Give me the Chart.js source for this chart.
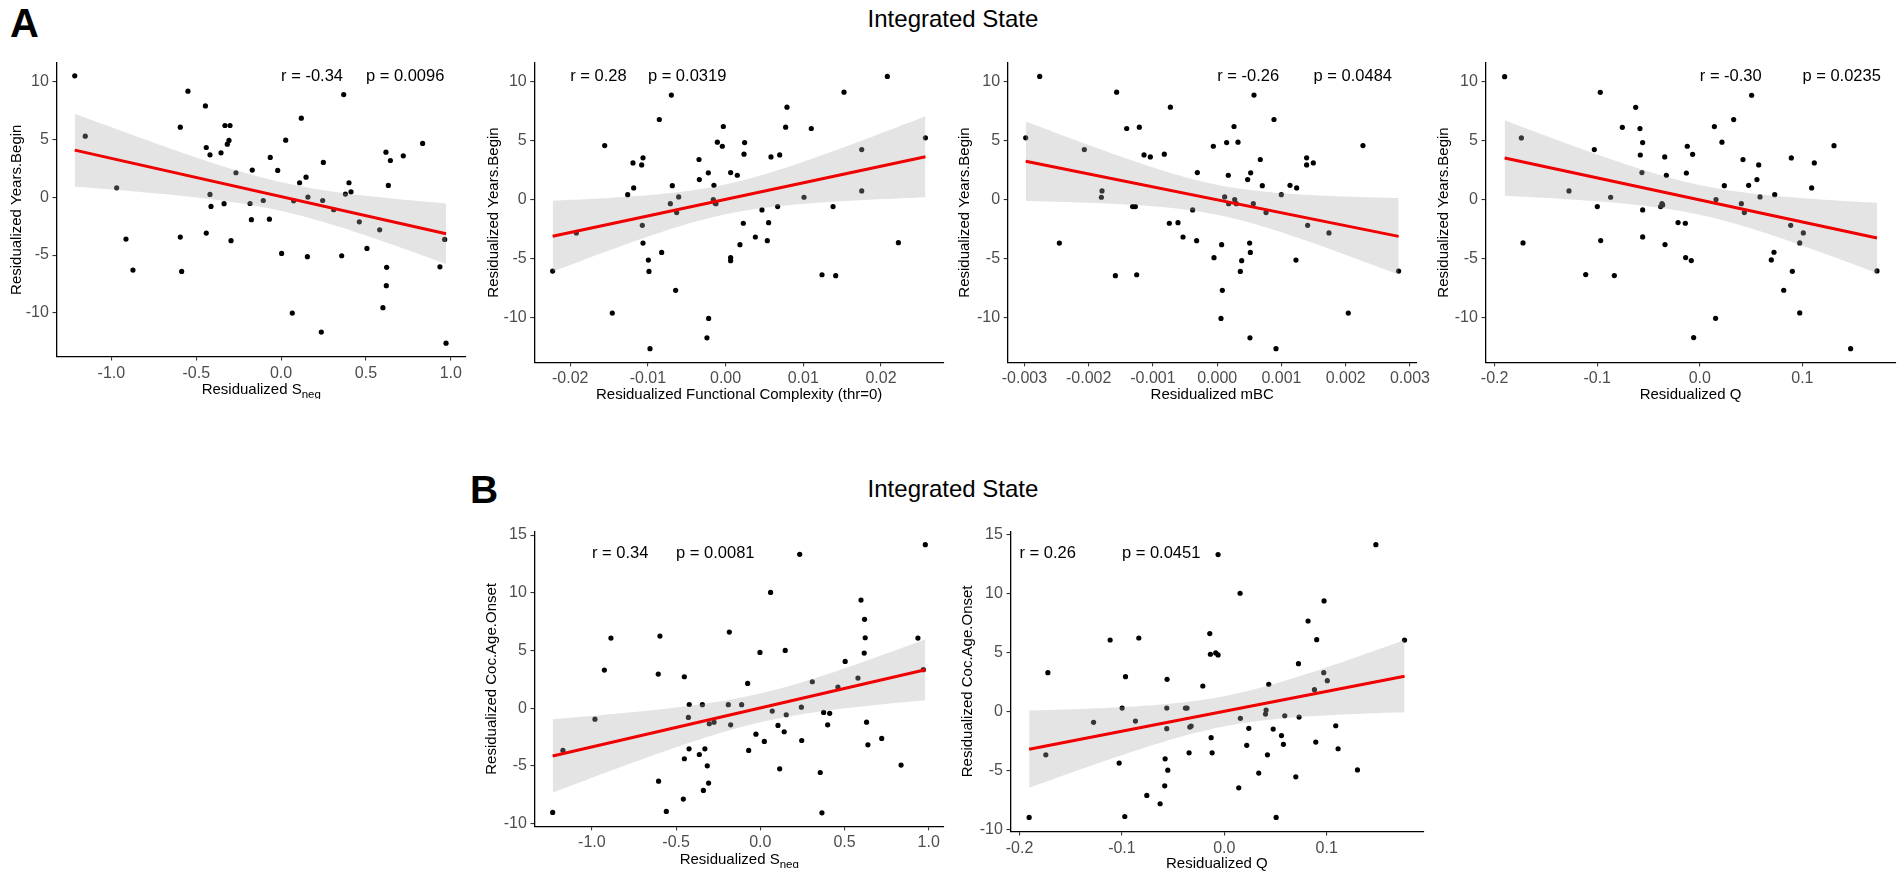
<!DOCTYPE html>
<html>
<head>
<meta charset="utf-8">
<title>Integrated State</title>
<script src="https://cdn.jsdelivr.net/npm/chart.js@4.4.1/dist/chart.umd.min.js"></script>
<style>
  html, body { margin: 0; padding: 0; background: #fff; }
  body { width: 1902px; height: 876px; position: relative; overflow: hidden;
         font-family: "Liberation Sans", Arial, Helvetica, sans-serif; }
  canvas { position: absolute; }
  .tag { position: absolute; font-weight: bold; line-height: 1; color: #000; }
  .head { position: absolute; width: 400px; text-align: center; font-size: 24px; line-height: 1; color: #000; }
</style>
</head>
<body>
<div class="tag" style="left:10px; top:3px; font-size:40px;">A</div>
<div class="head" style="left:753px; top:7px;">Integrated State</div>
<div class="tag" style="left:470px; top:470px; font-size:39px;">B</div>
<div class="head" style="left:753px; top:477px;">Integrated State</div>
<script>
// ---- data ----
// Panel A: y = Residualized Years.Begin
const aSnegX = [-1.216,-1.154,-0.969,-0.914,-0.873,-0.594,-0.594,-0.586,-0.549,-0.446,-0.441,-0.441,-0.419,-0.419,-0.413,-0.354,-0.336,-0.331,-0.301,-0.307,-0.317,-0.295,-0.266,-0.183,-0.175,-0.170,-0.105,-0.069,-0.064,-0.020,0.003,0.027,0.066,0.074,0.109,0.119,0.147,0.155,0.158,0.237,0.245,0.249,0.310,0.357,0.369,0.379,0.400,0.412,0.461,0.506,0.581,0.600,0.618,0.622,0.620,0.632,0.644,0.720,0.834,0.936,0.964,0.972];
const aSnegY = [10.46,5.26,0.80,-3.62,-6.29,6.03,-3.45,-6.41,9.14,7.87,4.28,-3.10,3.65,0.23,-0.80,3.82,-0.57,6.18,6.18,4.89,4.57,-3.76,2.10,-0.55,-1.95,2.33,-0.29,-1.90,3.42,2.30,-4.86,4.91,-10.00,-0.32,1.24,6.81,1.72,-5.14,0.00,-11.64,-0.29,2.99,-1.09,-5.06,8.85,0.26,1.24,0.46,-2.13,-4.43,-2.82,-9.54,3.88,-6.06,-7.64,1.01,3.16,3.56,4.63,-6.01,-3.65,-12.60];

const aFcX = [-0.02226,-0.01921,-0.01556,-0.01458,-0.01260,-0.01192,-0.01183,-0.01080,-0.01063,-0.01072,-0.01063,-0.00994,-0.00986,-0.00853,-0.00823,-0.00711,-0.00698,-0.00686,-0.00643,-0.00630,-0.00604,-0.00342,-0.00338,-0.00240,-0.00222,-0.00218,-0.00158,-0.00150,-0.00124,-0.00136,-0.00106,-0.00042,-0.00029,0.00065,0.00065,0.00065,0.00151,0.00185,0.00228,0.00237,0.00245,0.00383,0.00468,0.00537,0.00554,0.00584,0.00670,0.00696,0.00773,0.00790,0.01009,0.01103,0.01241,0.01383,0.01417,0.01524,0.01752,0.01752,0.02082,0.02224,0.02572,-0.00973];
const aFcY = [-6.04,-2.82,4.57,-9.59,0.42,3.10,0.99,2.93,3.53,-2.17,-3.67,-5.11,-6.07,6.77,-4.46,-0.34,8.83,1.18,-7.67,-1.10,0.23,3.39,1.69,-11.68,2.26,-10.04,0.00,1.21,-0.34,-0.29,4.85,4.51,6.18,2.28,-4.91,-5.16,2.06,-3.81,-2.00,3.84,4.82,-3.16,-0.87,-3.47,-1.95,3.61,-0.59,3.78,6.12,7.81,0.20,6.01,-6.35,-0.59,-6.43,9.08,4.23,0.73,10.41,-3.64,5.22,-12.60];

const aMbcX = [-0.002981,-0.002763,-0.002457,-0.002068,-0.001793,-0.001803,-0.001585,-0.001565,-0.001409,-0.001316,-0.001274,-0.001253,-0.001212,-0.001139,-0.001041,-0.000823,-0.000745,-0.000729,-0.000610,-0.000532,-0.000382,-0.000320,-0.000309,-0.000060,-0.000050,0.000059,0.000069,0.000080,0.000116,0.000147,0.000173,0.000178,0.000262,0.000272,0.000298,0.000324,0.000360,0.000381,0.000474,0.000505,0.000510,0.000516,0.000521,0.000562,0.000573,0.000671,0.000702,0.000760,0.000884,0.000998,0.001133,0.001226,0.001237,0.001392,0.001392,0.001408,0.001496,0.001740,0.002041,0.002269,0.002824,0.000915];
const aMbcY = [5.22,10.41,-3.67,4.23,0.73,0.20,-6.43,9.08,6.01,-0.59,-0.59,-6.35,6.12,3.78,3.61,3.84,-2.00,7.81,-1.95,-3.16,-0.87,-3.47,2.28,4.51,-4.91,-10.04,-3.81,-7.67,0.23,4.82,2.06,-0.34,6.18,0.00,-0.34,4.85,-6.07,-5.16,1.69,-3.67,-11.68,-4.46,2.26,-0.34,8.83,3.39,1.18,-1.10,6.77,0.42,1.21,-5.11,0.99,3.53,2.93,-2.17,3.10,-2.82,-9.59,4.57,-6.04,-12.60];

const aQX = [-0.1902,-0.1739,-0.1723,-0.1275,-0.1112,-0.1028,-0.0999,-0.0970,-0.0966,-0.0869,-0.0833,-0.0755,-0.0625,-0.0583,-0.0580,-0.0564,-0.0557,-0.0557,-0.0557,-0.0382,-0.0369,-0.0362,-0.0342,-0.0339,-0.0326,-0.0212,-0.0141,-0.0138,-0.0131,-0.0122,-0.0083,-0.0070,-0.0060,0.0142,0.0154,0.0158,0.0216,0.0239,0.0330,0.0405,0.0421,0.0434,0.0476,0.0505,0.0557,0.0574,0.0587,0.0697,0.0723,0.0730,0.0818,0.0886,0.0892,0.0902,0.0974,0.0974,0.1009,0.1090,0.1116,0.1308,0.1727,0.1470];
const aQY = [10.39,5.21,-3.66,0.73,-6.34,4.23,-0.59,9.07,-3.46,0.20,-6.42,6.11,7.80,6.00,3.77,2.28,4.82,-0.87,-3.15,-0.59,-0.34,-0.45,3.61,-3.80,2.06,-1.94,-2.00,-4.90,2.25,4.51,-5.15,3.83,-11.66,6.17,-10.03,0.00,4.85,1.18,6.76,-0.34,3.38,-1.10,1.21,8.82,1.69,2.93,0.23,-5.10,-4.45,0.42,-7.66,-2.17,3.52,-6.06,-9.58,-3.66,-2.82,0.99,3.10,4.56,-6.03,-12.60];

// Panel B: y = Residualized Coc.Age.Onset
const bSnegX = [-1.233,-1.172,-0.982,-0.926,-0.887,-0.606,-0.604,-0.596,-0.558,-0.457,-0.451,-0.451,-0.427,-0.423,-0.422,-0.362,-0.344,-0.338,-0.329,-0.315,-0.307,-0.303,-0.275,-0.190,-0.184,-0.176,-0.111,-0.075,-0.069,-0.026,-0.002,0.024,0.061,0.071,0.105,0.115,0.142,0.148,0.154,0.234,0.244,0.246,0.309,0.356,0.366,0.376,0.400,0.412,0.461,0.504,0.580,0.598,0.619,0.623,0.617,0.631,0.639,0.721,0.836,0.936,0.968,0.980];
const bSnegY = [-9.02,-3.65,-0.94,3.31,6.08,2.96,-6.31,6.25,-8.93,-7.86,2.73,-4.37,-0.79,-3.51,0.33,-4.00,0.31,-7.11,-3.51,-4.98,-6.48,-1.34,-1.20,0.31,6.60,-1.43,0.31,2.15,-3.65,-2.24,4.84,-2.87,10.03,-0.24,-1.48,-5.24,-2.03,5.01,-0.56,13.33,0.10,-2.79,2.30,-5.56,-9.05,-0.36,-1.43,-0.44,1.84,4.06,2.62,9.37,7.70,6.11,4.78,-1.20,-3.16,-2.61,-4.92,6.08,3.34,14.17];

const bQX = [-0.1906,-0.1743,-0.1723,-0.1277,-0.1115,-0.1027,-0.0998,-0.0972,-0.0965,-0.0868,-0.0835,-0.0757,-0.0627,-0.0582,-0.0578,-0.0562,-0.0562,-0.0559,-0.0552,-0.0380,-0.0364,-0.0344,-0.0337,-0.0324,-0.0210,-0.0142,-0.0136,-0.0129,-0.0119,-0.0084,-0.0061,-0.0061,0.0141,0.0154,0.0157,0.0219,0.0239,0.0336,0.0402,0.0408,0.0421,0.0434,0.0477,0.0506,0.0558,0.0577,0.0590,0.0698,0.0724,0.0730,0.0818,0.0880,0.0893,0.0902,0.0971,0.0974,0.1006,0.1088,0.1111,0.1300,0.1480,0.1760];
const bQY = [-8.95,-3.64,3.32,-0.89,6.09,-4.34,0.32,-8.87,2.98,-0.78,6.26,-7.08,-7.79,-6.27,-3.98,0.32,-1.43,2.76,-4.94,0.32,0.32,-3.47,-1.29,-1.21,2.19,6.63,4.88,-2.19,-3.47,4.99,4.82,13.33,-6.44,10.05,-0.55,-2.84,-1.40,-5.19,-0.19,0.15,-3.64,2.33,-1.46,-8.95,-2.01,-2.75,-0.33,-5.51,4.08,-0.44,7.70,1.88,-2.56,6.12,3.32,9.40,2.64,-1.18,-3.13,-4.92,14.17,6.08];

// tick labels
const sNegTicks = ['-1.0', '-0.5', '0.0', '0.5', '1.0'];
const fcTicks = ['-0.02', '-0.01', '0.00', '0.01', '0.02'];
const mbcTicks = ['-0.003', '-0.002', '-0.001', '0.000', '0.001', '0.002', '0.003'];
const qTicks = ['-0.2', '-0.1', '0.0', '0.1'];
const yTicksA = ['-10', '-5', '0', '5', '10'];
const yTicksB = ['-10', '-5', '0', '5', '10', '15'];

// correlation labels
const statsA1 = ['r = -0.34', 'p = 0.0096'];
const statsA2 = ['r = 0.28', 'p = 0.0319'];
const statsA3 = ['r = -0.26', 'p = 0.0484'];
const statsA4 = ['r = -0.30', 'p = 0.0235'];
const statsB1 = ['r = 0.34', 'p = 0.0081'];
const statsB2 = ['r = 0.26', 'p = 0.0451'];

// ---- styling ----
const FAMILY = '"Liberation Sans", Arial, Helvetica, sans-serif';
Chart.defaults.font.family = FAMILY;
const TICK_SIZE = 16, TITLE_SIZE = 15, NOTE_SIZE = 16.5;
const LH = TITLE_SIZE * 1.2;
const BAND = 'rgba(170,170,170,0.32)';
const FIT_RED = '#f00000';

// panel layout in page pixels (L,T,R,B = plot area), axis ranges in data units
const panels = [
  { xs: aSnegX, ys: aSnegY, L: 56.5, T: 63, R: 466, B: 356.5, xMin: -1.3235, xMax: 1.0896, yMin: -13.75, yMax: 11.57,
    xTicks: sNegTicks, yTicks: yTicksA, yTitle: 'Residualized Years.Begin', xTitle: ['Residualized S', 'neg'], yTitleDist: 39.5,
    stats: statsA1, statAt: [0, 0.5], statY: 10 },
  { xs: aFcX, ys: aFcY, L: 534.3, T: 62.7, R: 944, B: 362.3, xMin: -0.02462, xMax: 0.02811, yMin: -13.75, yMax: 11.57,
    xTicks: fcTicks, yTicks: yTicksA, yTitle: 'Residualized Years.Begin', xTitle: 'Residualized Functional Complexity (thr=0)', yTitleDist: 40.5,
    stats: statsA2, statAt: [-0.02, -0.01], statY: 10 },
  { xs: aMbcX, ys: aMbcY, L: 1007.7, T: 62.7, R: 1416.8, B: 362.3, xMin: -0.003261, xMax: 0.003107, yMin: -13.75, yMax: 11.57,
    xTicks: mbcTicks, yTicks: yTicksA, yTitle: 'Residualized Years.Begin', xTitle: 'Residualized mBC', yTitleDist: 42.4,
    stats: statsA3, statAt: [0, 0.0015], statY: 10 },
  { xs: aQX, ys: aQY, L: 1485.5, T: 62.7, R: 1895.5, B: 362.3, xMin: -0.20887, xMax: 0.19074, yMin: -13.75, yMax: 11.57,
    xTicks: qTicks, yTicks: yTicksA, yTitle: 'Residualized Years.Begin', xTitle: 'Residualized Q', yTitleDist: 41.3,
    stats: statsA4, statAt: [0, 0.1], statY: 10 },
  { xs: bSnegX, ys: bSnegY, L: 534.5, T: 531.5, R: 944, B: 826.3, xMin: -1.3409, xMax: 1.0909, yMin: -10.22, yMax: 15.31,
    xTicks: sNegTicks, yTicks: yTicksB, yTitle: 'Residualized Coc.Age.Onset', xTitle: ['Residualized S', 'neg'], yTitleDist: 42.6,
    stats: statsB1, statAt: [-1.0, -0.5], statY: 13 },
  { xs: bQX, ys: bQY, L: 1010.5, T: 531.2, R: 1423.3, B: 831.6, xMin: -0.2088, xMax: 0.1943, yMin: -10.15, yMax: 15.31,
    xTicks: qTicks, yTicks: yTicksB, yTitle: 'Residualized Coc.Age.Onset', xTitle: 'Residualized Q', yTitleDist: 42.8,
    stats: statsB2, statAt: [-0.2, -0.1], statY: 13 }
];

// linear fit with 95% confidence band (like geom_smooth(method = "lm"))
function fitLm(xs, ys) {
  const n = xs.length;
  const mx = xs.reduce((s, v) => s + v, 0) / n;
  const my = ys.reduce((s, v) => s + v, 0) / n;
  let sxx = 0, sxy = 0;
  for (let i = 0; i < n; i++) {
    sxx += (xs[i] - mx) * (xs[i] - mx);
    sxy += (xs[i] - mx) * (ys[i] - my);
  }
  const b = sxy / sxx, a = my - b * mx;
  let sse = 0;
  for (let i = 0; i < n; i++) sse += Math.pow(ys[i] - (a + b * xs[i]), 2);
  const s = Math.sqrt(sse / (n - 2));
  const t = 1.96 + 2.4 / (n - 2);
  const lo = Math.min(...xs), hi = Math.max(...xs);
  const upper = [], lower = [];
  for (let k = 0; k < 80; k++) {
    const x = lo + (hi - lo) * k / 79;
    const yhat = a + b * x;
    const se = s * Math.sqrt(1 / n + (x - mx) * (x - mx) / sxx);
    upper.push({ x: x, y: yhat + t * se });
    lower.push({ x: x, y: yhat - t * se });
  }
  return { upper, lower, line: [{ x: lo, y: a + b * lo }, { x: hi, y: a + b * hi }] };
}

// r / p labels anchored at data coordinates
function statNotes(texts, at, yv) {
  return {
    id: 'statNotes',
    afterDatasetsDraw(chart) {
      const { ctx, scales } = chart;
      ctx.save();
      ctx.font = NOTE_SIZE + 'px ' + FAMILY;
      ctx.fillStyle = '#000';
      ctx.textAlign = 'left';
      ctx.textBaseline = 'alphabetic';
      texts.forEach((t, i) => ctx.fillText(t, scales.x.getPixelForValue(at[i]), scales.y.getPixelForValue(yv)));
      ctx.restore();
    }
  };
}

// x title with a subscript (S_neg)
function subscriptTitle(main, sub) {
  return {
    id: 'subTitle',
    afterDraw(chart) {
      const { ctx, chartArea } = chart;
      const mainFont = TITLE_SIZE + 'px ' + FAMILY;
      const subFont = '11.5px ' + FAMILY;
      ctx.save();
      ctx.font = mainFont;
      const w1 = ctx.measureText(main).width;
      ctx.font = subFont;
      const w2 = ctx.measureText(sub).width;
      const x0 = (chartArea.left + chartArea.right) / 2 - (w1 + w2) / 2;
      const base = chartArea.bottom + 37.7;
      ctx.fillStyle = '#000';
      ctx.textAlign = 'left';
      ctx.textBaseline = 'alphabetic';
      ctx.font = mainFont;
      ctx.fillText(main, x0, base);
      ctx.font = subFont;
      ctx.fillText(sub, x0 + w1, base + 4);
      ctx.restore();
    }
  };
}

panels.forEach(p => {
  const W = p.yTitleDist + LH / 2;
  const H = 32.7 + LH / 2;
  const left = Math.floor(p.L - W);
  const top = Math.floor(p.T - 15);
  const wAxis = p.L - left;
  const padTop = p.T - top;
  const height = Math.ceil(padTop + (p.B - p.T) + H);
  const hAxis = height - padTop - (p.B - p.T);
  const width = Math.ceil(wAxis + (p.R - p.L) + 30);
  const padRight = width - wAxis - (p.R - p.L);

  const canvas = document.createElement('canvas');
  canvas.width = width;
  canvas.height = height;
  canvas.style.left = left + 'px';
  canvas.style.top = top + 'px';
  document.body.appendChild(canvas);

  const fit = fitLm(p.xs, p.ys);
  const pts = p.xs.map((x, i) => ({ x: x, y: p.ys[i] }));
  const plainXTitle = typeof p.xTitle === 'string';

  const extraPlugins = [statNotes(p.stats, p.statAt, p.statY)];
  if (!plainXTitle) extraPlugins.push(subscriptTitle(p.xTitle[0], p.xTitle[1]));

  const axisCommon = {
    type: 'linear',
    grid: { drawOnChartArea: false, drawTicks: true, tickLength: 4, color: '#333333', lineWidth: 1.1 },
    border: { display: true, color: '#000000', width: 1.3 }
  };

  new Chart(canvas, {
    type: 'scatter',
    data: {
      datasets: [
        { type: 'scatter', data: pts, pointRadius: 2.6, pointBackgroundColor: '#000', pointBorderWidth: 0, order: 3 },
        { type: 'line', data: fit.upper, borderColor: 'rgba(0,0,0,0)', borderWidth: 0, pointRadius: 0,
          fill: '+1', backgroundColor: BAND, order: 2 },
        { type: 'line', data: fit.lower, borderColor: 'rgba(0,0,0,0)', borderWidth: 0, pointRadius: 0, fill: false, order: 2 },
        { type: 'line', data: fit.line, borderColor: FIT_RED, borderWidth: 3, pointRadius: 0, fill: false, order: 1 }
      ]
    },
    options: {
      responsive: false,
      animation: false,
      events: [],
      devicePixelRatio: 1,
      layout: { padding: { top: padTop, right: padRight, left: 0, bottom: 0 } },
      plugins: { legend: { display: false }, tooltip: { enabled: false } },
      scales: {
        x: Object.assign({}, axisCommon, {
          position: 'bottom',
          min: p.xMin, max: p.xMax,
          afterBuildTicks: s => { s.ticks = p.xTicks.map(v => ({ value: parseFloat(v) })); },
          afterFit: s => { s.height = hAxis; s.paddingLeft = 0; s.paddingRight = 0; },
          ticks: { autoSkip: false, maxRotation: 0, padding: 3, color: '#4d4d4d', font: { size: TICK_SIZE },
                   callback: (v, i) => p.xTicks[i] },
          title: { display: plainXTitle, text: plainXTitle ? p.xTitle : '', color: '#000',
                   font: { size: TITLE_SIZE }, padding: { top: 0, bottom: hAxis - H } }
        }),
        y: Object.assign({}, axisCommon, {
          position: 'left',
          min: p.yMin, max: p.yMax,
          afterBuildTicks: s => { s.ticks = p.yTicks.map(v => ({ value: parseFloat(v) })); },
          afterFit: s => { s.width = wAxis; s.paddingTop = 0; s.paddingBottom = 0; },
          ticks: { autoSkip: false, padding: 3.6, color: '#4d4d4d', font: { size: TICK_SIZE },
                   callback: (v, i) => p.yTicks[i] },
          title: { display: true, text: p.yTitle, color: '#000', font: { size: TITLE_SIZE },
                   padding: { top: wAxis - W, bottom: 0 } }
        })
      }
    },
    plugins: extraPlugins
  });
});
</script>
</body>
</html>
